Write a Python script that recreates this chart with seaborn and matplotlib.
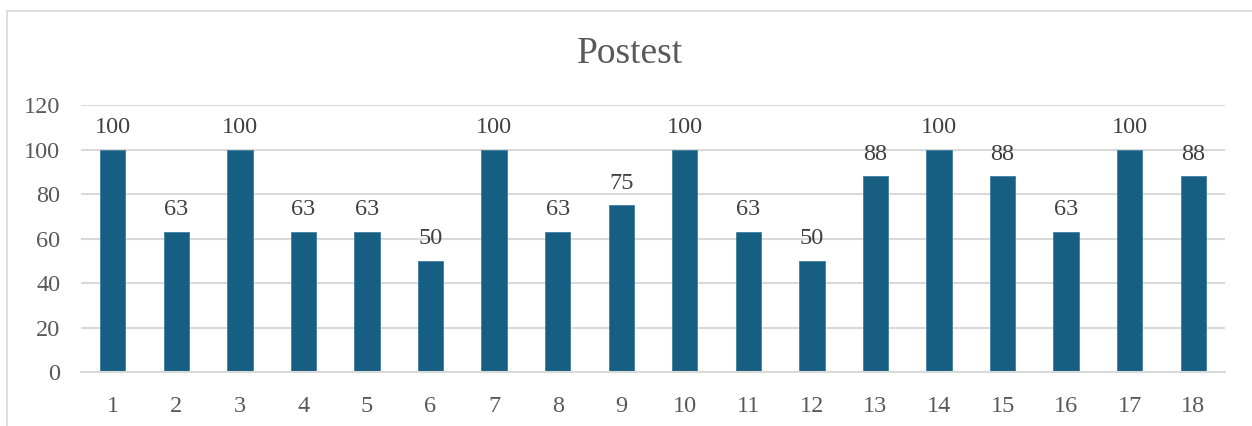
import matplotlib
matplotlib.use("Agg")
import matplotlib.pyplot as plt
from matplotlib.patches import Rectangle
import seaborn as sns
import pandas as pd

categories = [str(i) for i in range(1, 19)]
scores = [100, 63, 100, 63, 63, 50, 100, 63, 75, 100, 63, 50, 88, 100, 88, 63, 100, 88]
y_ticks = [0, 20, 40, 60, 80, 100, 120]
title = "Postest"

sns.set_theme(style="white")
plt.rcParams["font.family"] = ["Liberation Serif", "DejaVu Serif"]

W, H = 1252, 426
fig = plt.figure(figsize=(W / 100, H / 100), dpi=100)

# light outer frame of the chart area
fig.patches.append(Rectangle((7 / W, -0.1), 1.2, (H - 11) / H + 0.1,
                             transform=fig.transFigure, fill=False,
                             edgecolor="#d9d9d9", linewidth=1.2))

ax = fig.add_axes([81 / W, (H - 372) / H, (1225 - 81) / W, (372 - 105.3) / H])

df = pd.DataFrame({"student": categories, "score": scores})
sns.barplot(data=df, x="student", y="score", color="#175f82", width=0.4,
            saturation=1, ax=ax, edgecolor="#3f7fa0", linewidth=0.6)

ax.set_ylim(0, 120)
ax.set_yticks(y_ticks)
ax.set_xlim(-0.5, len(categories) - 0.5)
ax.set_xlabel("")
ax.set_ylabel("")

ax.grid(axis="y", color="#d9d9d9", linewidth=1.5)
ax.grid(axis="x", visible=False)
ax.set_axisbelow(True)
for side in ["left", "right", "top"]:
    ax.spines[side].set_visible(False)
ax.spines["bottom"].set_color("#d9d9d9")
ax.spines["bottom"].set_linewidth(1.5)

ax.tick_params(axis="both", length=0, labelsize=17.5, labelcolor="#595959")
ax.tick_params(axis="x", pad=17)
ax.tick_params(axis="y", pad=15)

for i, v in enumerate(scores):
    ax.annotate(f"{v}", xy=(i, v), xytext=(0, 12), textcoords="offset points",
                ha="center", va="baseline", fontsize=17.5, color="#404040")

fig.text(630 / W, (H - 63.3) / H, title, ha="center", va="baseline",
         fontsize=27, color="#595959")

fig.savefig("out.png", dpi=100)
